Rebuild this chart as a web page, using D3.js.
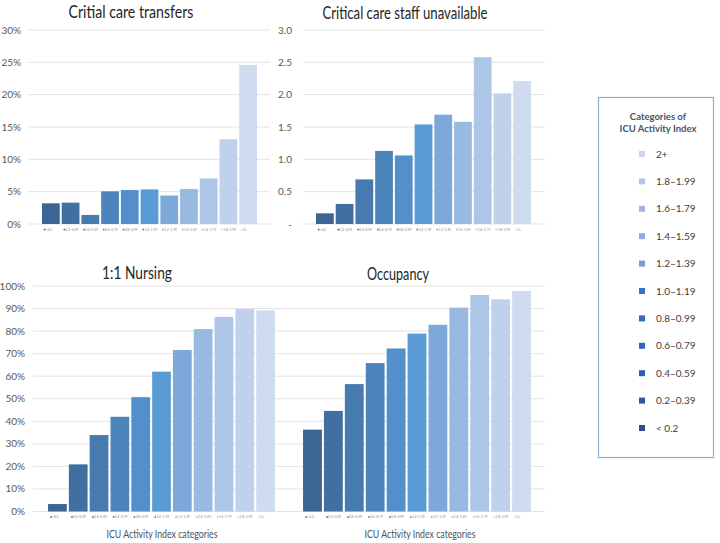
<!DOCTYPE html>
<html><head><meta charset="utf-8">
<script src="https://cdn.jsdelivr.net/npm/d3@7"></script>
<style>body{margin:0;background:#fff}svg{display:block}</style>
</head><body><svg id="c" width="720" height="543"></svg>
<script>
const categories = ["<0.2","0.2–0.39","0.4–0.59","0.6–0.79","0.8–0.99","1.0–1.19","1.2–1.39","1.4–1.59","1.6–1.79","1.8–1.99","2+"];
const legendLabels = ["< 0.2","0.2–0.39","0.4–0.59","0.6–0.79","0.8–0.99","1.0–1.19","1.2–1.39","1.4–1.59","1.6–1.79","1.8–1.99","2+"];
const transfers = [3.2, 3.3, 1.4, 5.05, 5.25, 5.35, 4.4, 5.4, 7.05, 13.1, 24.6];
const staffUnavailable = [0.165, 0.31, 0.69, 1.13, 1.06, 1.54, 1.69, 1.58, 2.58, 2.02, 2.21];
const nursing = [3.3, 20.9, 33.9, 42.0, 50.7, 62.0, 71.6, 80.9, 86.3, 89.8, 89.2];
const occupancy = [36.3, 44.6, 56.5, 65.8, 72.3, 78.9, 82.8, 90.4, 96.0, 94.1, 97.8];
const pctTicks = [0, 5, 10, 15, 20, 25, 30];
const staffTicks = [0, 0.5, 1.0, 1.5, 2.0, 2.5, 3.0];
const pct100Ticks = [0, 10, 20, 30, 40, 50, 60, 70, 80, 90, 100];
const barColors = ["#3b6592","#416f9f","#477aae","#4d84bc","#538fca","#5b9bd5","#7ca9da","#98b9e0","#adc6e7","#bfd1eb","#cfdcef"];
const legendColors = ["#2e4f8b","#2f5597","#335ca8","#3763b4","#3a69bd","#3e70c4","#7f97d4","#95a9dc","#a5b4e0","#b6c3e6","#cbd5ef"];

const svg = d3.select("#c");
const font = "Lato, 'Open Sans', sans-serif";

function panel(o) {
  const g = svg.append("g");
  const y = d3.scaleLinear().domain(o.domain).range([o.bottom, o.top]);
  const x = d3.scaleBand().domain(categories).range(o.band).paddingInner(0.1).paddingOuter(0.05);
  g.selectAll("line.grid").data(o.ticks).join("line")
    .attr("x1", o.gx[0]).attr("x2", o.gx[1])
    .attr("y1", d => y(d)).attr("y2", d => y(d))
    .attr("stroke", "#e3e3e3").attr("stroke-width", 1);
  g.selectAll("text.yt").data(o.ticks).join("text")
    .attr("x", o.labelX).attr("y", d => y(d) + 3.5)
    .attr("text-anchor", "end").attr("font-family", font).attr("font-size", 10)
    .attr("fill", "#595959").text(o.fmt);
  g.selectAll("rect.bar").data(o.values).join("rect")
    .attr("x", (d, i) => x(categories[i])).attr("width", x.bandwidth())
    .attr("y", d => y(d)).attr("height", d => y(0) - y(d))
    .attr("fill", (d, i) => barColors[i]);
  const tk = g.selectAll("g.xt").data(categories).join("g")
    .attr("transform", d => `translate(${x(d) + x.bandwidth() / 2},${o.bottom + 6})`);
  tk.append("rect").attr("x", -7).attr("y", -1.2).attr("width", 1.5).attr("height", 1.5)
    .attr("fill", (d, i) => legendColors[i]);
  tk.append("text").attr("x", -5).attr("y", 0.9).attr("font-family", font)
    .attr("font-size", 3.2).attr("fill", "#7f7f7f").text(d => d);
  g.append("text").attr("x", o.titleX).attr("y", o.titleY).attr("text-anchor", "middle")
    .attr("font-family", font).attr("font-size", 16.5).attr("fill", "#262626")
    .attr("textLength", o.titleW).attr("lengthAdjust", "spacingAndGlyphs").text(o.title);
  if (o.xlabel) {
    g.append("text").attr("x", o.xlabelX).attr("y", 538).attr("text-anchor", "middle")
      .attr("font-family", font).attr("font-size", 10.5).attr("fill", "#44546a")
      .attr("textLength", 111).attr("lengthAdjust", "spacingAndGlyphs").text(o.xlabel);
  }
}

panel({title: "Critial care transfers", titleX: 131, titleY: 18, titleW: 125, values: transfers,
  domain: [0, 30], ticks: pctTicks, fmt: d => d + "%", top: 30, bottom: 224,
  gx: [28, 270], band: [41, 258], labelX: 21});
panel({title: "Critical care staff unavailable", titleX: 405, titleY: 19, titleW: 165, values: staffUnavailable,
  domain: [0, 3], ticks: staffTicks, fmt: d => d === 0 ? "-   " : d3.format(".1f")(d), top: 30, bottom: 224,
  gx: [303, 545], band: [315, 532], labelX: 292});
panel({title: "1:1 Nursing", titleX: 137, titleY: 279, titleW: 70, values: nursing,
  domain: [0, 100], ticks: pct100Ticks, fmt: d => d + "%", top: 286, bottom: 511.5,
  gx: [33, 297], band: [47, 276], labelX: 25, xlabel: "ICU Activity Index categories", xlabelX: 162});
panel({title: "Occupancy", titleX: 398, titleY: 280, titleW: 62, values: occupancy,
  domain: [0, 100], ticks: pct100Ticks, fmt: d => "", top: 286, bottom: 511.5,
  gx: [297, 545], band: [302, 532], labelX: 25, xlabel: "ICU Activity Index categories", xlabelX: 420});

const lg = svg.append("g");
lg.append("rect").attr("x", 598.5).attr("y", 97.5).attr("width", 115).attr("height", 360)
  .attr("fill", "#fff").attr("stroke", "#8eaadb").attr("stroke-width", 1.2);
lg.append("text").attr("x", 658).attr("y", 120).attr("text-anchor", "middle").attr("font-family", font)
  .attr("font-size", 9.5).attr("font-weight", "bold").attr("fill", "#44546a").text("Categories of");
lg.append("text").attr("x", 658).attr("y", 132).attr("text-anchor", "middle").attr("font-family", font)
  .attr("font-size", 9.5).attr("font-weight", "bold").attr("fill", "#44546a").text("ICU Activity Index");
const ly = d3.scalePoint().domain(d3.range(11)).range([428, 154]);
const items = lg.selectAll("g.li").data(legendLabels).join("g")
  .attr("transform", (d, i) => `translate(0,${ly(i)})`);
items.append("rect").attr("x", 639).attr("y", -3).attr("width", 6).attr("height", 6)
  .attr("fill", (d, i) => legendColors[i]);
items.append("text").attr("x", 656).attr("y", 3.5).attr("font-family", font).attr("font-size", 10)
  .attr("fill", "#404040").text(d => d);
</script></body></html>
